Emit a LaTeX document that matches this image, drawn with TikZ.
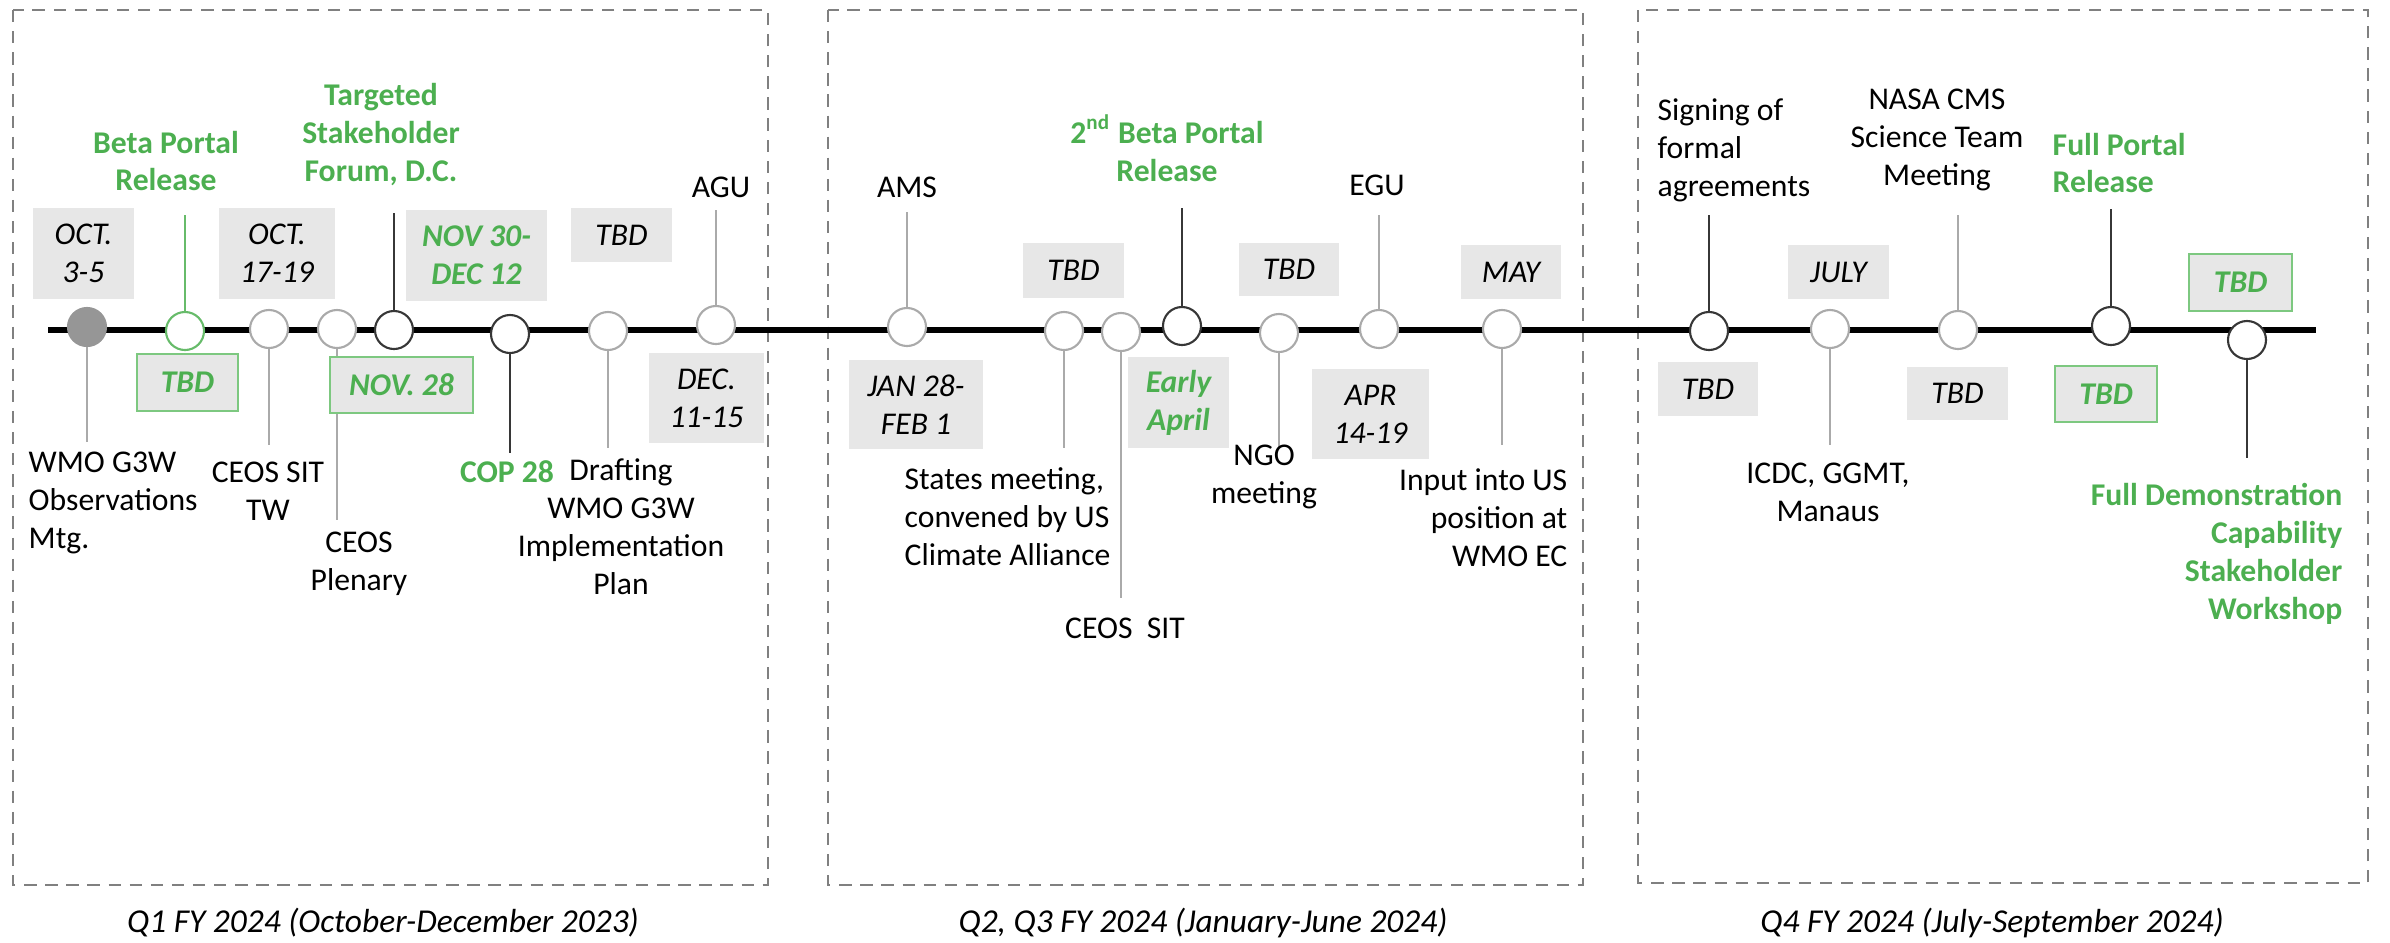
\documentclass[tikz,border=0pt]{standalone}
\usepackage{fontspec}
\setmainfont{Carlito}
\usepackage{tikz}

\definecolor{grn}{RGB}{76,175,80}
\definecolor{grnline}{RGB}{125,200,128}
\definecolor{boxgray}{RGB}{231,231,231}
\definecolor{ltgray}{RGB}{170,170,170}
\definecolor{dkgray}{RGB}{55,55,55}
\definecolor{dotgray}{RGB}{150,150,150}
\definecolor{dashgray}{RGB}{128,128,128}

\begin{document}
\begin{tikzpicture}[x=0.01cm, y=-0.01cm,
  txt/.style={inner sep=0pt, font=\fontsize{9}{10.8}\selectfont},
  gtxt/.style={inner sep=0pt, text=grn, font=\fontsize{9}{10.8}\selectfont\bfseries},
  datebox/.style={fill=boxgray, inner sep=0pt, align=center, font=\fontsize{9}{10.8}\selectfont\itshape},
  gdatebox/.style={datebox, text=grn, font=\fontsize{9}{10.8}\selectfont\bfseries\itshape},
  ev/.style={circle, draw=ltgray, fill=white, line width=0.6pt, minimum size=0.38cm, inner sep=0pt},
  evdk/.style={ev, draw=dkgray},
  stem/.style={ltgray, line width=0.5pt},
  stemdk/.style={dkgray, line width=0.6pt},
  quarter/.style={draw=dashgray, dash pattern=on 3.5pt off 2.5pt, line width=0.5pt},
  qlabel/.style={inner sep=0pt, font=\fontsize{9.5}{11}\selectfont\itshape}
]
\useasboundingbox (0,0) rectangle (2390,942);

% quarters
\draw[quarter] (13,10) rectangle (768,885);
\draw[quarter] (828,10) rectangle (1583,885);
\draw[quarter] (1638,10) rectangle (2368,883);
\node[qlabel] (q1) at (383,923) {Q1 FY 2024 (October-December 2023)};
\node[qlabel] (q2) at (1203,923) {Q2, Q3 FY 2024 (January-June 2024)};
\node[qlabel] (q4) at (1992,923) {Q4 FY 2024 (July-September 2024)};

% timeline
\coordinate (tl0) at (48,330);
\coordinate (tl1) at (2316,330);
\draw[line width=1.7pt] (tl0) -- (tl1);

% events on the line
\node[ev, fill=dotgray, draw=dotgray] (mtg) at (87,327) {};
\node[ev, draw=grn!85] (beta) at (185,331) {};
\node[ev] (sit) at (269,329) {};
\node[ev] (plen) at (337,329) {};
\node[evdk] (forum) at (394,330) {};
\node[evdk] (cop) at (510,334) {};
\node[ev] (draft) at (608,331) {};
\node[ev] (agu) at (716,325) {};
\node[ev] (ams) at (907,327) {};
\node[ev] (states) at (1064,331) {};
\node[ev] (sit2) at (1121,332) {};
\node[evdk] (beta2) at (1182,326) {};
\node[ev] (ngo) at (1279,333) {};
\node[ev] (egu) at (1379,329) {};
\node[ev] (input) at (1502,329) {};
\node[evdk] (sign) at (1709,331) {};
\node[ev] (icdc) at (1830,329) {};
\node[ev] (nasa) at (1958,330) {};
\node[evdk] (full) at (2111,326) {};
\node[evdk] (demo) at (2247,340) {};

% stem ends
\coordinate (mtg-e) at (87,442);
\coordinate (beta-e) at (185,215);
\coordinate (sit-e) at (269,445);
\coordinate (plen-e) at (337,520);
\coordinate (forum-e) at (394,213);
\coordinate (cop-e) at (510,453);
\coordinate (draft-e) at (608,448);
\coordinate (agu-e) at (716,210);
\coordinate (ams-e) at (907,212);
\coordinate (states-e) at (1064,448);
\coordinate (sit2-e) at (1121,598);
\coordinate (beta2-e) at (1182,208);
\coordinate (ngo-e) at (1279,447);
\coordinate (egu-e) at (1379,215);
\coordinate (input-e) at (1502,445);
\coordinate (sign-e) at (1709,215);
\coordinate (icdc-e) at (1830,445);
\coordinate (nasa-e) at (1958,215);
\coordinate (full-e) at (2111,209);
\coordinate (demo-e) at (2247,458);

\draw[stem] (mtg) -- (mtg-e);
\draw[stem, grn!85] (beta) -- (beta-e);
\draw[stem] (sit) -- (sit-e);
\draw[stem] (plen) -- (plen-e);
\draw[stemdk] (forum) -- (forum-e);
\draw[stemdk] (cop) -- (cop-e);
\draw[stem] (draft) -- (draft-e);
\draw[stem] (agu) -- (agu-e);
\draw[stem] (ams) -- (ams-e);
\draw[stem] (states) -- (states-e);
\draw[stem] (sit2) -- (sit2-e);
\draw[stemdk] (beta2) -- (beta2-e);
\draw[stem] (ngo) -- (ngo-e);
\draw[stem] (egu) -- (egu-e);
\draw[stem] (input) -- (input-e);
\draw[stemdk] (sign) -- (sign-e);
\draw[stem] (icdc) -- (icdc-e);
\draw[stem] (nasa) -- (nasa-e);
\draw[stemdk] (full) -- (full-e);
\draw[stemdk] (demo) -- (demo-e);

% dates
\node[datebox, minimum width=1.01cm, minimum height=0.91cm] (dmtg) at (83.5,253.5) {OCT.\\3-5};
\node[gdatebox, draw=grnline, minimum width=1.01cm, minimum height=0.57cm] (dbeta) at (187.5,382.5) {TBD};
\node[datebox, minimum width=1.16cm, minimum height=0.91cm] (dsit) at (277,253.5) {OCT.\\17-19};
\node[gdatebox, draw=grnline, minimum width=1.43cm, minimum height=0.56cm] (dforum) at (401.5,385) {NOV. 28};
\node[gdatebox, minimum width=1.41cm, minimum height=0.91cm] (dcop) at (476.5,255.5) {NOV 30-\\DEC 12};
\node[datebox, minimum width=1.01cm, minimum height=0.54cm] (ddraft) at (621.5,235) {TBD};
\node[datebox, minimum width=1.15cm, minimum height=0.90cm] (dagu) at (706.5,398) {DEC.\\11-15};
\node[datebox, minimum width=1.34cm, minimum height=0.89cm] (dams) at (916,404.5) {JAN 28-\\FEB 1};
\node[datebox, minimum width=1.01cm, minimum height=0.55cm] (dstates) at (1073.5,270.5) {TBD};
\node[gdatebox, minimum width=1.01cm, minimum height=0.91cm] (dbeta2) at (1178.5,402.5) {Early\\April};
\node[datebox, minimum width=1.00cm, minimum height=0.53cm] (dngo) at (1289,269.5) {TBD};
\node[datebox, minimum width=1.17cm, minimum height=0.90cm] (degu) at (1370.5,414) {APR\\14-19};
\node[datebox, minimum width=1.00cm, minimum height=0.54cm] (dinput) at (1511,272) {MAY};
\node[datebox, minimum width=1.00cm, minimum height=0.54cm] (dsign) at (1708,389) {TBD};
\node[datebox, minimum width=1.01cm, minimum height=0.54cm] (dicdc) at (1838.5,272) {JULY};
\node[datebox, minimum width=1.01cm, minimum height=0.53cm] (dnasa) at (1957.5,393.5) {TBD};
\node[gdatebox, draw=grnline, minimum width=1.02cm, minimum height=0.56cm] (dfull) at (2106,394) {TBD};
\node[gdatebox, draw=grnline, minimum width=1.03cm, minimum height=0.57cm] (ddemo) at (2240.5,282.5) {TBD};

% event texts
\node[txt, align=left, anchor=west] (tmtg) at (28,503) {WMO G3W\\Observations\\Mtg.};
\node[gtxt, align=center] (tbeta) at (166,161) {Beta Portal\\Release};
\node[txt, align=center] (tsit) at (268,491) {CEOS SIT\\TW};
\node[txt, align=center] (tplen) at (359,564) {CEOS\\Plenary};
\node[gtxt, align=center] (tforum) at (381,135) {Targeted\\Stakeholder\\Forum, D.C.};
\node[gtxt] (tcop) at (507,472) {COP 28};
\node[txt, align=center] (tdraft) at (621,527) {Drafting\\WMO G3W\\Implementation\\Plan};
\node[txt] (tagu) at (721,187) {AGU};
\node[txt] (tams) at (907,187) {AMS};
\node[txt, align=left, anchor=west] (tstates) at (904,517) {States meeting,\\convened by US\\Climate Alliance};
\node[txt] (tsit2) at (1125,628) {CEOS\ \ SIT};
\node[gtxt, align=center] (tbeta2) at (1167,148) {2\textsuperscript{nd} Beta Portal\\Release};
\node[txt, align=center] (tngo) at (1264,477) {NGO\\meeting};
\node[txt] (tegu) at (1377,185) {EGU};
\node[txt, align=right, anchor=east] (tinput) at (1568,518) {Input into US\\position at\\WMO EC};
\node[txt, align=left, anchor=west] (tsign) at (1657,150) {Signing of\\formal\\agreements};
\node[txt, align=center] (ticdc) at (1828,492) {ICDC, GGMT,\\Manaus};
\node[txt, align=center] (tnasa) at (1937,140) {NASA CMS\\Science Team\\Meeting};
\node[gtxt, align=left, anchor=west] (tfull) at (2052,163) {Full Portal\\Release};
\node[gtxt, align=right, anchor=east] (tdemo) at (2343,554) {Full Demonstration\\Capability\\Stakeholder\\Workshop};

\end{tikzpicture}
\end{document}
